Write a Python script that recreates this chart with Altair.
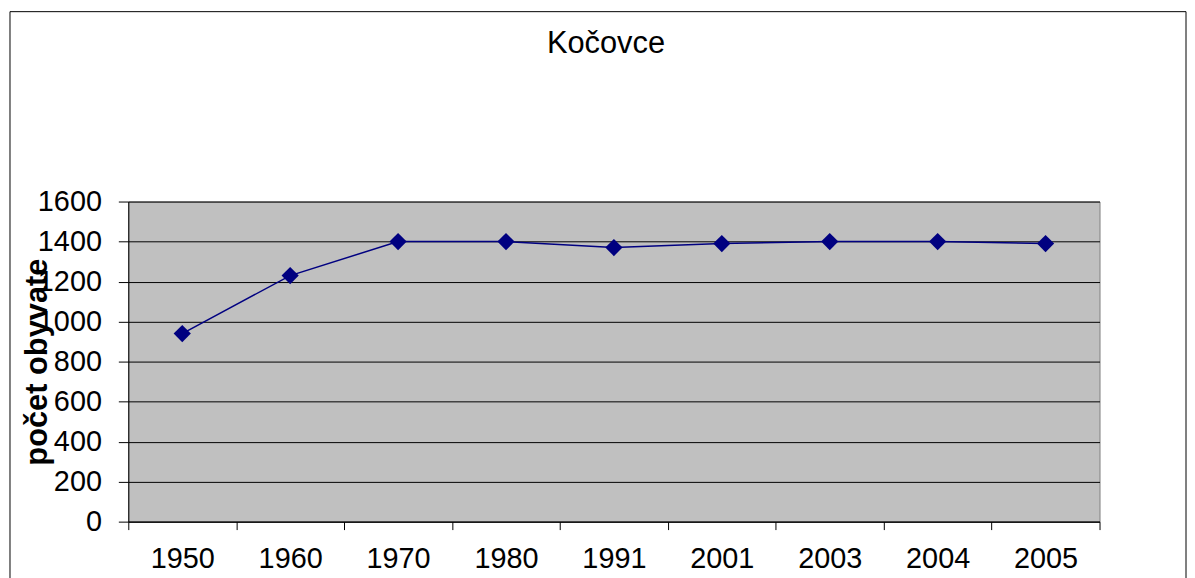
import altair as alt
import pandas as pd

years = ["1950", "1960", "1970", "1980", "1991", "2001", "2003", "2004", "2005"]
population = [940, 1230, 1400, 1400, 1370, 1390, 1400, 1400, 1390]
y_ticks = [0, 200, 400, 600, 800, 1000, 1200, 1400, 1600]

df = pd.DataFrame({"rok": years, "pocet": population})

FONT = "Liberation Sans"

x_enc = alt.X(
    "rok:O",
    sort=years,
    bandPosition=0.5,
    scale=alt.Scale(type="band", paddingInner=0, paddingOuter=0),
    axis=alt.Axis(
        title=None,
        labelAngle=0,
        labelFont=FONT,
        labelFontSize=29,
        labelColor="black",
        labelPadding=15,
        tickBand="extent",
        tickSize=8,
        tickColor="black",
        domainColor="black",
        grid=False,
    ),
)

y_enc = alt.Y(
    "pocet:Q",
    scale=alt.Scale(domain=[0, 1600], nice=False),
    axis=alt.Axis(
        title="počet obyvate",
        titleFont=FONT,
        titleFontSize=31,
        titleFontWeight="bold",
        titleColor="black",
        titleAngle=-90,
        titleAlign="center",
        titleBaseline="alphabetic",
        titleX=-82,
        titleY=161,
        values=y_ticks,
        format="d",
        labelFont=FONT,
        labelFontSize=29,
        labelColor="black",
        labelPadding=17,
        tickSize=10,
        tickColor="black",
        domainColor="black",
        grid=True,
        gridColor="black",
        gridWidth=1,
    ),
)

border = alt.Chart(alt.Data(values=[{"a": 1}])).mark_rect(
    fillOpacity=0, stroke="black", strokeWidth=1
).encode(
    x=alt.value(-119), x2=alt.value(1064), y=alt.value(-191), y2=alt.value(400)
)

line = alt.Chart(df).mark_line(color="#000080", strokeWidth=1.5).encode(x=x_enc, y=y_enc)
points = alt.Chart(df).mark_point(
    shape="diamond", filled=True, color="#000080", size=300, opacity=1
).encode(x=x_enc, y=y_enc)

chart = alt.layer(border, line, points).properties(
    width=977,
    height=322,
    autosize=alt.AutoSizeParams(type="none"),
    padding={"left": 121, "top": 193, "right": 88, "bottom": 55},
    title=alt.TitleParams(
        text="Kočovce",
        font=FONT,
        fontSize=31,
        fontWeight="normal",
        color="black",
        anchor="middle",
        baseline="alphabetic",
        offset=-73,
        dx=-8,
    ),
).configure(background="white").configure_view(fill="#C0C0C0", stroke="#808080", strokeWidth=1)

chart.save("out.html", embed_options={"renderer": "svg", "actions": False})
